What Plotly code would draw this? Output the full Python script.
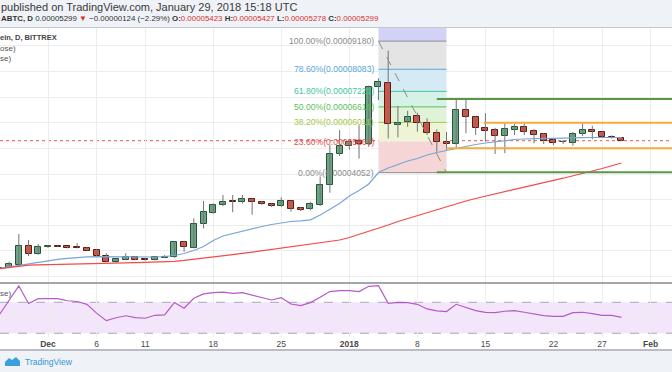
import plotly.graph_objects as go
import pandas as pd

W, H = 672, 372
UNIT = 1e-5  # prices below are in units of 0.00001 BTC

dates = pd.date_range("2017-11-26", "2018-01-29", freq="D")

opens = [0.30, 0.35, 0.44, 1.19, 0.88, 1.14, 1.19, 1.18, 1.14, 1.13,
         1.04, 0.81, 0.56, 0.66, 0.78, 0.69, 0.65, 0.74, 0.75, 1.36,
         1.13, 2.04, 2.49, 2.79, 2.93, 2.92, 3.01, 2.92, 2.83, 2.74,
         2.95, 2.68, 2.62, 2.80, 3.57, 4.77, 5.09, 5.29, 5.17, 7.40,
         7.56, 5.93, 6.04, 6.26, 5.98, 5.59, 5.25, 5.17, 6.50, 6.21,
         5.81, 5.72, 5.49, 5.72, 5.84, 5.68, 5.56, 5.33, 5.24, 5.20,
         5.55, 5.72, 5.63, 5.45, 5.423]
highs = [0.34, 0.58, 1.66, 1.43, 1.27, 1.22, 1.22, 1.19, 1.30, 1.15,
         1.08, 0.91, 0.70, 0.91, 0.80, 0.72, 0.77, 0.84, 1.38, 1.40,
         2.27, 2.95, 2.85, 3.18, 3.18, 3.18, 3.05, 2.95, 2.85, 3.09,
         2.97, 2.72, 2.92, 3.90, 5.13, 5.72, 5.35, 5.90, 7.45, 7.73,
         8.81, 6.65, 6.46, 6.39, 6.17, 5.74, 5.64, 6.90, 6.91, 6.25,
         6.37, 5.80, 5.97, 5.97, 5.97, 5.75, 5.60, 5.36, 5.33, 5.64,
         5.97, 5.88, 5.66, 5.51, 5.427]
lows = [0.29, 0.34, 0.42, 0.80, 0.85, 1.12, 1.15, 1.10, 1.10, 0.99,
        0.79, 0.55, 0.53, 0.64, 0.64, 0.62, 0.63, 0.72, 0.73, 0.97,
        1.10, 1.88, 2.45, 2.75, 2.51, 2.85, 2.41, 2.80, 2.72, 2.72,
        2.53, 2.55, 2.58, 2.75, 3.27, 4.70, 4.95, 4.60, 5.06, 6.88,
        5.39, 5.43, 5.84, 5.65, 5.52, 4.87, 4.94, 5.02, 5.59, 5.52,
        5.26, 4.78, 4.81, 5.52, 5.52, 5.20, 5.17, 5.13, 5.17, 5.10,
        5.48, 5.35, 5.40, 5.38, 5.278]
closes = [0.33, 0.48, 1.19, 0.87, 1.15, 1.19, 1.17, 1.12, 1.13, 1.01,
          0.81, 0.57, 0.67, 0.78, 0.66, 0.65, 0.75, 0.78, 1.36, 1.17,
          2.05, 2.51, 2.79, 2.92, 2.90, 3.01, 2.91, 2.83, 2.75, 2.95,
          2.63, 2.59, 2.83, 3.57, 4.77, 5.09, 5.26, 5.17, 7.41, 7.57,
          5.95, 5.97, 6.23, 6.00, 5.59, 5.25, 5.16, 6.50, 6.21, 5.81,
          5.69, 5.49, 5.74, 5.84, 5.63, 5.52, 5.30, 5.20, 5.25, 5.55,
          5.72, 5.63, 5.43, 5.43, 5.299]

ma_fast = [0.316, 0.374, 0.452, 0.511, 0.569, 0.628, 0.674, 0.713, 0.752, 0.772,
           0.780, 0.776, 0.764, 0.756, 0.752, 0.756, 0.764, 0.784, 0.823, 0.901,
           1.018, 1.173, 1.407, 1.583, 1.680, 1.778, 1.875, 1.953, 2.031, 2.090,
           2.148, 2.175, 2.214, 2.402, 2.616, 2.850, 3.142, 3.357, 3.610, 4.058,
           4.234, 4.370, 4.507, 4.604, 4.741, 4.838, 4.916, 4.994, 5.092, 5.150,
           5.209, 5.259, 5.306, 5.345, 5.365, 5.384, 5.392, 5.392, 5.392, 5.404,
           5.415, 5.423, 5.431, 5.431, 5.423]
ma_slow = [0.304, 0.355, 0.421, 0.444, 0.456, 0.468, 0.480, 0.487, 0.499, 0.507,
           0.515, 0.522, 0.530, 0.538, 0.546, 0.554, 0.561, 0.573, 0.596, 0.632,
           0.671, 0.713, 0.760, 0.807, 0.854, 0.904, 0.955, 1.006, 1.053, 1.103,
           1.154, 1.205, 1.255, 1.306, 1.357, 1.427, 1.524, 1.641, 1.758, 1.895,
           2.012, 2.148, 2.265, 2.382, 2.499, 2.616, 2.733, 2.850, 2.947, 3.045,
           3.135, 3.228, 3.329, 3.415, 3.501, 3.583, 3.669, 3.754, 3.836, 3.922,
           4.019, 4.117, 4.214, 4.320, 4.429]
rsi = [54.0, 72.0, 91.0, 68.5, 74.7, 74.7, 74.7, 72.0, 71.0, 67.4,
       56.0, 46.3, 50.0, 52.6, 50.2, 49.4, 53.2, 53.7, 69.6, 62.3,
       75.2, 80.8, 82.5, 83.0, 81.6, 82.5, 79.5, 76.0, 73.0, 76.0,
       67.8, 65.7, 69.6, 76.5, 83.8, 85.1, 85.1, 83.8, 90.6, 91.5,
       68.7, 70.0, 69.6, 67.4, 61.4, 58.8, 58.0, 67.4, 63.5, 59.2,
       57.1, 56.6, 58.4, 59.2, 57.1, 54.9, 52.8, 51.9, 51.9, 56.6,
       57.1, 55.4, 53.2, 53.2, 50.6]

# Fibonacci retracement drawing
fib_start, fib_end = "2018-01-04", "2018-01-11"
fib_high, fib_low = 9.180, 4.052
fib_levels = [1.618, 1.0, 0.786, 0.618, 0.5, 0.382, 0.236, 0.0]
fib_labels = ["", "100.00%(0.00009180)", "78.60%(0.00008083)", "61.80%(0.00007221)",
              "50.00%(0.00006616)", "38.20%(0.00006011)", "23.60%(0.00005263)",
              "0.00%(0.00004052)"]
fib_line_colors = ["#9c9cd8", "#8c8c8c", "#5aa6da", "#3cc79c", "#5cbf5c", "#a3c940", "#e05252", "#8c8c8c"]
fib_fill_colors = ["#d2d2f6", "#e4e4e4", "#d6eaf6", "#d6f1e5", "#e0f2d8", "#eef4d6", "#f5d5d5"]

# horizontal support / resistance lines drawn by the author
hlines = [("2018-01-10", 6.92, "#5b9448"), ("2018-01-10", 4.07, "#5b9448"),
          ("2018-01-14 20:00", 6.00, "#f8a93c"), ("2018-01-11", 5.00, "#f8a93c")]

tick_dates = ["2017-12-01", "2017-12-06", "2017-12-11", "2017-12-18", "2017-12-25",
              "2018-01-01", "2018-01-08", "2018-01-15", "2018-01-22", "2018-01-27", "2018-02-01"]
tick_text = ["<b>Dec</b>", "6", "11", "18", "25", "<b>2018</b>", "8", "15", "22", "27", "<b>Feb</b>"]

UP, DOWN = "#6ba583", "#d75442"
UP_B, DOWN_B = "#225437", "#5b1a13"
WICK = "#737375"
FONT = "Liberation Sans, Arial, sans-serif"

def px(x):
    return x / W

def py(y):
    return 1 - y / H

o = [v * UNIT for v in opens]
h = [v * UNIT for v in highs]
l = [v * UNIT for v in lows]
c = [v * UNIT for v in closes]

fig = go.Figure()

# wicks
wx, wy = [], []
for d, lo, hi in zip(dates, l, h):
    wx += [d, d, None]
    wy += [lo, hi, None]
fig.add_trace(go.Scatter(x=wx, y=wy, mode="lines", line=dict(color=WICK, width=1),
                         hoverinfo="skip", showlegend=False, xaxis="x", yaxis="y"))
# bodies
fig.add_trace(go.Bar(
    x=dates, y=[abs(cc - oo) for oo, cc in zip(o, c)], base=[min(oo, cc) for oo, cc in zip(o, c)],
    width=0.62 * 86400000,
    marker=dict(color=[UP if cc >= oo else DOWN for oo, cc in zip(o, c)],
                line=dict(color=[UP_B if cc >= oo else DOWN_B for oo, cc in zip(o, c)], width=1)),
    showlegend=False, xaxis="x", yaxis="y"))
# moving averages
fig.add_trace(go.Scatter(x=dates, y=[v * UNIT for v in ma_fast], mode="lines",
                         line=dict(color="#79a5d6", width=1.2), showlegend=False, xaxis="x", yaxis="y"))
fig.add_trace(go.Scatter(x=dates, y=[v * UNIT for v in ma_slow], mode="lines",
                         line=dict(color="#f24a4a", width=1.2), showlegend=False, xaxis="x", yaxis="y"))
# RSI
fig.add_trace(go.Scatter(x=dates, y=rsi, mode="lines", line=dict(color="#b65ac8", width=1.2),
                         showlegend=False, xaxis="x2", yaxis="y2"))

shapes = []
# header / footer backgrounds
shapes.append(dict(type="rect", xref="paper", yref="paper", x0=0, x1=1, y0=py(27), y1=1,
                   fillcolor="#eff2f6", line=dict(width=0), layer="below"))
shapes.append(dict(type="rect", xref="paper", yref="paper", x0=0, x1=1, y0=0, y1=py(350),
                   fillcolor="#eff2f6", line=dict(width=0), layer="below"))
# fib bands
for k in range(len(fib_levels) - 1):
    a = fib_low + fib_levels[k] * (fib_high - fib_low)
    b = fib_low + fib_levels[k + 1] * (fib_high - fib_low)
    shapes.append(dict(type="rect", xref="x", yref="y", x0=fib_start, x1=fib_end,
                       y0=b * UNIT, y1=a * UNIT, fillcolor=fib_fill_colors[k],
                       line=dict(width=0), layer="between"))
for k, lev in enumerate(fib_levels):
    v = fib_low + lev * (fib_high - fib_low)
    if lev == 0.236:
        continue
    shapes.append(dict(type="line", xref="x", yref="y", x0=fib_start, x1=fib_end,
                       y0=v * UNIT, y1=v * UNIT, line=dict(color=fib_line_colors[k], width=1),
                       layer="between"))
# trend line of the fib
shapes.append(dict(type="line", xref="x", yref="y", x0=fib_start, x1=fib_end,
                   y0=fib_high * UNIT, y1=fib_low * UNIT,
                   line=dict(color="#8c8c8c", width=1, dash="dash"), layer="above"))
# last price line
shapes.append(dict(type="line", xref="paper", yref="y", x0=0, x1=1,
                   y0=closes[-1] * UNIT, y1=closes[-1] * UNIT,
                   line=dict(color="#e8574a", width=1, dash="dot"), layer="between"))
# horizontal drawings
for start, lvl, col in hlines:
    shapes.append(dict(type="line", xref="x", yref="y", x0=start, x1="2018-03-01",
                       y0=lvl * UNIT, y1=lvl * UNIT, line=dict(color=col, width=2), layer="above"))
# RSI band
shapes.append(dict(type="rect", xref="paper", yref="y2", x0=0, x1=1, y0=30, y1=70,
                   fillcolor="#f3e6fb", line=dict(width=0), layer="below"))
for lvl in (30, 70):
    shapes.append(dict(type="line", xref="paper", yref="y2", x0=0, x1=1, y0=lvl, y1=lvl,
                       line=dict(color="#a9a9b0", width=1, dash="dash"), layer="between"))
# separators
shapes.append(dict(type="line", xref="paper", yref="paper", x0=0, x1=1, y0=py(27.5), y1=py(27.5),
                   line=dict(color="#c5c8cc", width=1)))
shapes.append(dict(type="line", xref="paper", yref="paper", x0=0, x1=1, y0=py(283), y1=py(283),
                   line=dict(color="#a3a6ab", width=2)))
shapes.append(dict(type="line", xref="paper", yref="paper", x0=0, x1=1, y0=py(350), y1=py(350),
                   line=dict(color="#b9bcc0", width=2)))
# TradingView cloud logo
shapes.append(dict(type="path", xref="paper", yref="paper",
                   path=(f"M {px(5)},{py(366)} L {px(20)},{py(366)} L {px(20)},{py(361)} "
                         f"L {px(16)},{py(357)} L {px(12)},{py(360)} L {px(9)},{py(358)} "
                         f"L {px(5)},{py(362)} Z"),
                   fillcolor="#3aa1dc", line=dict(width=0)))

annotations = []
def text(x, y, s, size=9, color="#444", anchor="left", yanchor="middle", family=FONT):
    annotations.append(dict(xref="paper", yref="paper", x=px(x), y=py(y), text=s, showarrow=False,
                            xanchor=anchor, yanchor=yanchor, font=dict(size=size, color=color, family=family)))

RED = "#d7312c"
text(-1, 7.5, "published on TradingView.com, January 29, 2018 15:18 UTC", size=11, color="#3a3a3a")
text(-1, 18.5, (f"<b>ABTC, D</b> 0.00005299 <span style='color:{RED}'>▼</span> −0.00000124 (−2.29%) "
                f"<b>O:</b><span style='color:{RED}'>0.00005423</span> "
                f"<b>H:</b><span style='color:{RED}'>0.00005427</span> "
                f"<b>L:</b><span style='color:{RED}'>0.00005278</span> "
                f"<b>C:</b><span style='color:{RED}'>0.00005299</span>"), size=7.9, color="#333")
text(-2, 37.5, "<b>ein, D, BITTREX</b>", size=7.5, color="#444")
text(-2, 48.5, "ose)", size=8, color="#555")
text(-2, 58.5, "se)", size=8, color="#555")
text(-2, 293.5, "se)", size=8, color="#555")
text(23, 362, "TradingView", size=8.5, color="#3296d3")

# fib labels
for k, lev in enumerate(fib_levels):
    if not fib_labels[k]:
        continue
    v = fib_low + lev * (fib_high - fib_low)
    annotations.append(dict(xref="x", yref="y", x=fib_start, y=v * UNIT, text=fib_labels[k],
                            showarrow=False, xanchor="right", yanchor="middle", xshift=-2,
                            font=dict(size=8.6, color=fib_line_colors[k], family=FONT)))

t0 = pd.Timestamp("2017-11-26")
xr = [t0 + pd.Timedelta(days=0.0617), t0 + pd.Timedelta(days=69.198)]

ymain_top, ymain_bot = 27, 282
yr_main = [(4 - (ymain_bot - 174) / 25.65) * UNIT, (4 + (174 - ymain_top) / 25.65) * UNIT]

GRID = "#ededed"
fig.update_layout(
    width=W, height=H, margin=dict(l=0, r=0, t=0, b=0),
    paper_bgcolor="white", plot_bgcolor="white",
    showlegend=False, bargap=0,
    xaxis=dict(type="date", range=xr, domain=[0, 1], anchor="y", showticklabels=False,
               showgrid=True, gridcolor=GRID, tickvals=tick_dates, zeroline=False,
               showline=False, ticks=""),
    xaxis2=dict(type="date", range=xr, domain=[0, 1], anchor="y2", matches="x",
                showgrid=True, gridcolor=GRID, tickvals=tick_dates, ticktext=tick_text,
                tickfont=dict(size=8.5, color="#4a4a4a", family=FONT), ticks="", showline=False,
                zeroline=False, ticklabelstandoff=0),
    yaxis=dict(domain=[py(ymain_bot), py(ymain_top)], range=yr_main, showticklabels=False,
               showgrid=True, gridcolor=GRID, dtick=UNIT, tick0=0, zeroline=False),
    yaxis2=dict(domain=[py(337), py(284)], range=[25.2, 93.6], showticklabels=False,
                showgrid=True, gridcolor=GRID, tickvals=[50], zeroline=False),
    shapes=shapes, annotations=annotations,
)

fig.write_html("out.html", config={"displayModeBar": False},
               post_script="document.body.style.margin='0';document.body.style.overflow='hidden';")
